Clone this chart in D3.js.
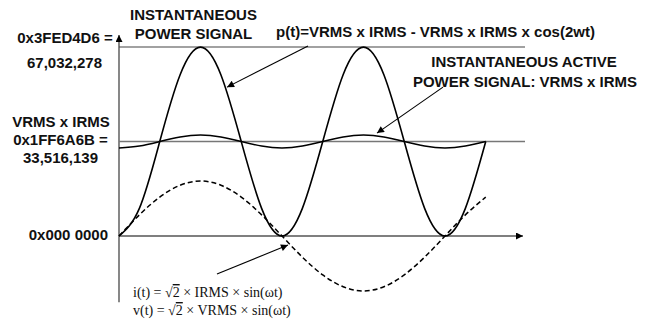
<!DOCTYPE html>
<html>
<head>
<meta charset="utf-8">
<script src="https://cdn.jsdelivr.net/npm/d3@7"></script>
<style>
  html, body { margin: 0; padding: 0; background: #fff; }
  svg { display: block; }
  .lbl { font-family: "Liberation Sans", Arial, sans-serif; font-weight: bold; font-size: 15px; fill: #111; }
  .eq { font-family: "Liberation Serif", "Times New Roman", serif; font-size: 14px; fill: #111; }
</style>
</head>
<body>
<svg id="chart" width="652" height="328"></svg>
<script>
// Phase angle ωt in degrees, sampled every 22.5°
const phase = [0, 22.5, 45, 67.5, 90, 112.5, 135, 157.5, 180, 202.5, 225, 247.5, 270, 292.5, 315, 337.5, 360, 382.5, 405];

// Instantaneous power p(t) in LSB counts (millions)
const powerM = [0, 9.8, 33.5, 57.2, 67.0, 57.2, 33.5, 9.8, 0, 9.8, 33.5, 57.2, 67.0, 57.2, 33.5, 9.8, 0, 9.8, 33.5];

// Instantaneous active power signal with small residual ripple (millions)
const activeM = [31.2, 31.9, 33.5, 35.1, 35.8, 35.1, 33.5, 31.9, 31.2, 31.9, 33.5, 35.1, 35.8, 35.1, 33.5, 31.9, 31.2, 31.9, 33.5];

// Current / voltage waveform drawn on the same axis (millions)
const currentM = [0, 7.5, 13.8, 18.0, 19.5, 18.0, 13.8, 7.5, 0, -7.5, -13.8, -18.0, -19.5, -18.0, -13.8, -7.5, 0, 7.5, 13.8];

// Reference levels and their labels
const peakValue = 67032278;     // 0x3FED4D6
const activeValue = 33516139;   // 0x1FF6A6B
const peakLabels = ["0x3FED4D6 =", "67,032,278"];
const activeLabels = ["VRMS x IRMS", "0x1FF6A6B =", "33,516,139"];
const zeroLabel = "0x000 0000";

const svg = d3.select("#chart");
const x = d3.scaleLinear().domain([0, 405]).range([119, 485.75]);
const y = d3.scaleLinear().domain([0, peakValue]).range([236, 47]);
const M = 1e6;

// Arrowhead marker
const defs = svg.append("defs");
defs.append("marker")
  .attr("id", "head").attr("viewBox", "0 0 10 10")
  .attr("refX", 10).attr("refY", 5)
  .attr("markerWidth", 9).attr("markerHeight", 7)
  .attr("markerUnits", "userSpaceOnUse")
  .attr("orient", "auto")
  .append("path").attr("d", "M0,0L10,5L0,10Z").attr("fill", "#000");

// Vertical axis
const xLeft = x(0);
svg.append("line")
  .attr("x1", xLeft).attr("x2", xLeft)
  .attr("y1", y(-23.5 * M)).attr("y2", y(71.3 * M))
  .attr("stroke", "#555").attr("stroke-width", 1.4)
  .attr("marker-end", "url(#head)");

// Horizontal (zero) axis
svg.append("line")
  .attr("x1", xLeft).attr("x2", 523)
  .attr("y1", y(0)).attr("y2", y(0))
  .attr("stroke", "#000").attr("stroke-width", 1.2)
  .attr("marker-end", "url(#head)");

// Reference lines at peak and at VRMS x IRMS
[peakValue, activeValue].forEach((v, i) => {
  svg.append("line")
    .attr("x1", xLeft).attr("x2", 525)
    .attr("y1", y(v)).attr("y2", y(v))
    .attr("stroke", i === 0 ? "#444" : "#777")
    .attr("stroke-width", i === 0 ? 1.2 : 1.6);
});

const line = d3.line()
  .x((d, i) => x(phase[i]))
  .y(d => y(d * M))
  .curve(d3.curveNatural);

// Current waveform (dashed)
svg.append("path").datum(currentM)
  .attr("d", line).attr("fill", "none")
  .attr("stroke", "#000").attr("stroke-width", 1.5)
  .attr("stroke-dasharray", "5,3");

// Active power ripple
svg.append("path").datum(activeM)
  .attr("d", line).attr("fill", "none")
  .attr("stroke", "#000").attr("stroke-width", 1.5);

// Instantaneous power
svg.append("path").datum(powerM)
  .attr("d", line).attr("fill", "none")
  .attr("stroke", "#000").attr("stroke-width", 1.6);

// Annotation arrows: [from phase, from value(M), to phase, to value(M)]
const arrows = [
  [208.7, 67.4, 119.3, 52.8],
  [357.8, 52.8, 284.9, 36.5],
  [108.2, -13.5, 186.6, -3.2]
];
arrows.forEach(a => {
  svg.append("line")
    .attr("x1", x(a[0])).attr("y1", y(a[1] * M))
    .attr("x2", x(a[2])).attr("y2", y(a[3] * M))
    .attr("stroke", "#000").attr("stroke-width", 1.1)
    .attr("marker-end", "url(#head)");
});

// Left-hand value labels
const leftText = (t, cx, by, anchor) => svg.append("text").attr("class", "lbl")
  .attr("x", cx).attr("y", by).attr("text-anchor", anchor || "middle").text(t);

leftText(peakLabels[0], 65, y(peakValue) - 4.5);
leftText(peakLabels[1], 64.5, y(peakValue) + 21);
leftText(activeLabels[0], 61, y(activeValue) - 14.5);
leftText(activeLabels[1], 60.5, y(activeValue) + 3.5);
leftText(activeLabels[2], 60.5, y(activeValue) + 21.5);
leftText(zeroLabel, 108, y(0) + 3.5, "end");

// Signal captions
leftText("INSTANTANEOUS", 193.5, 20);
leftText("POWER SIGNAL", 193.5, 39);
leftText("p(t)=VRMS x IRMS - VRMS x IRMS x cos(2wt)", 435.5, 36.5);
leftText("INSTANTANEOUS ACTIVE", 524, 67);
leftText("POWER SIGNAL: VRMS x IRMS", 525, 86.5);

// Waveform equations
const eqs = [["i(t) = ", " × IRMS × sin(ωt)", 297], ["v(t) = ", " × VRMS × sin(ωt)", 315]];
eqs.forEach(e => {
  const t = svg.append("text").attr("class", "eq").attr("x", 133).attr("y", e[2]);
  t.append("tspan").text(e[0]);
  t.append("tspan").text("√");
  t.append("tspan").attr("text-decoration", "overline").text("2");
  t.append("tspan").text(e[1]);
});
</script>
</body>
</html>
